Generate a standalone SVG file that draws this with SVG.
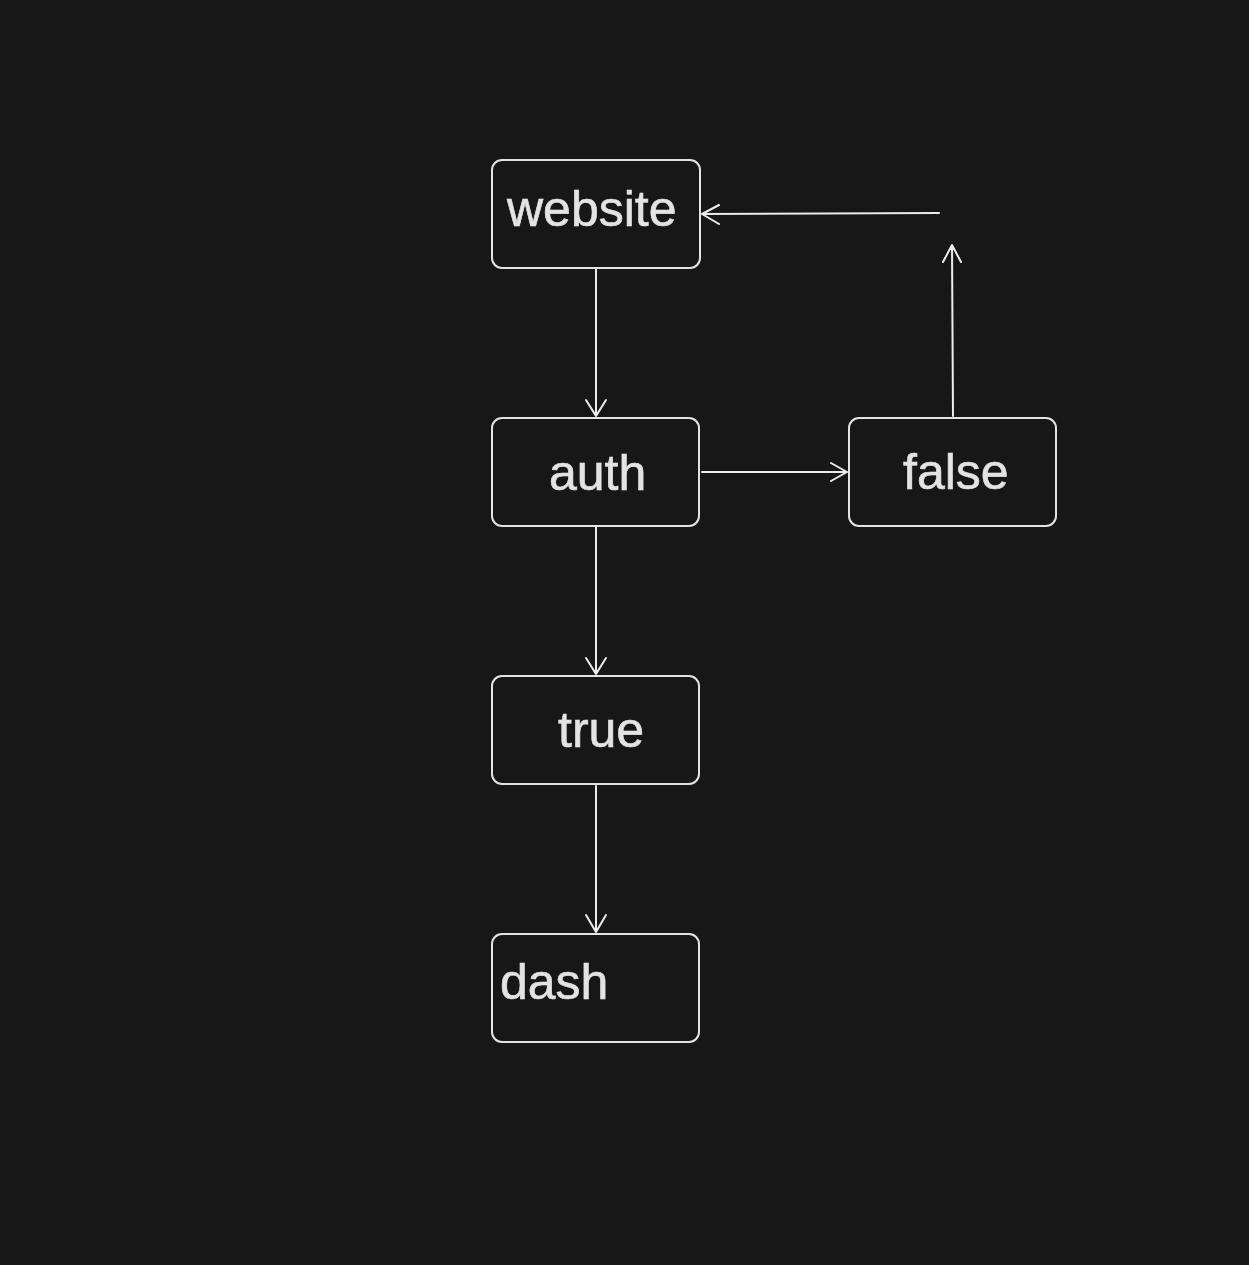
<svg xmlns="http://www.w3.org/2000/svg" width="1249" height="1265" viewBox="0 0 1249 1265">
<style>
.box{fill:#171717;stroke:#e3e3e3;stroke-width:2}
.lbl{font-family:"Liberation Sans",Arial,sans-serif;font-size:50px;fill:#e3e3e3;stroke:#e3e3e3;stroke-width:0.6}
.ln{fill:none;stroke:#ececec;stroke-width:2;stroke-linecap:round;stroke-linejoin:round}
</style>
<rect width="1249" height="1265" fill="#171717"/>
<g id="connectors">
<path class="ln" d="M596 269 L596 416 M586 400 L596 416 L606 400"/>
<path class="ln" d="M596 527 L596 674 M586 658 L596 674 L606 658"/>
<path class="ln" d="M596 786 L596 932 M586 915 L596 932 L606 915"/>
<path class="ln" d="M702 472 L847 472 M831 463 L847 472 L831 481"/>
<path class="ln" d="M953 416 L952 245 M943 262 L952 245 L961 262"/>
<path class="ln" d="M939 213 L702 214 M719 205 L702 214 L719 224"/>
</g>
<g id="website">
<rect class="box" x="492" y="160" width="208" height="108" rx="10"/>
<text class="lbl" x="507" y="226">website</text>
</g>
<g id="auth">
<rect class="box" x="492" y="418" width="207" height="108" rx="10"/>
<text class="lbl" x="549" y="490">auth</text>
</g>
<g id="false">
<rect class="box" x="849" y="418" width="207" height="108" rx="10"/>
<text class="lbl" x="903" y="489">false</text>
</g>
<g id="true">
<rect class="box" x="492" y="676" width="207" height="108" rx="10"/>
<text class="lbl" x="558" y="747">true</text>
</g>
<g id="dash">
<rect class="box" x="492" y="934" width="207" height="108" rx="10"/>
<text class="lbl" x="500" y="999">dash</text>
</g>
</svg>
